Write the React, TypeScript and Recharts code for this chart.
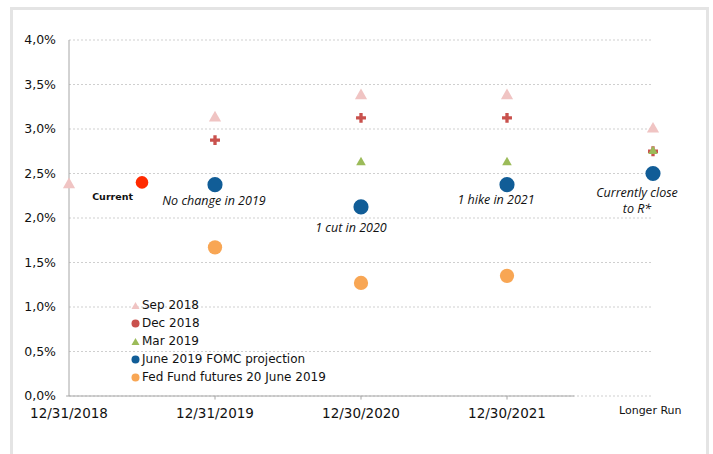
import React from 'react';
import {
  ScatterChart,
  Scatter,
  XAxis,
  YAxis,
  CartesianGrid,
  ReferenceLine,
  Legend,
  Symbols,
} from 'recharts';

// x positions: 0 = 12/31/2018, 1 = 12/31/2019, 2 = 12/30/2020, 3 = 12/30/2021, 4 = Longer Run
const xTicks = [0, 1, 2, 3];
const xTickLabels = ['12/31/2018', '12/31/2019', '12/30/2020', '12/30/2021'];
const yTicks = [0, 0.5, 1, 1.5, 2, 2.5, 3, 3.5, 4];

const sep2018 = [
  { x: 0, y: 2.375 },
  { x: 1, y: 3.125 },
  { x: 2, y: 3.375 },
  { x: 3, y: 3.375 },
  { x: 4, y: 3.0 },
];
const dec2018 = [
  { x: 1, y: 2.875 },
  { x: 2, y: 3.125 },
  { x: 3, y: 3.125 },
  { x: 4, y: 2.75 },
];
const mar2019 = [
  { x: 2, y: 2.625 },
  { x: 3, y: 2.625 },
  { x: 4, y: 2.75 },
];
const june2019 = [
  { x: 1, y: 2.375 },
  { x: 2, y: 2.125 },
  { x: 3, y: 2.375 },
  { x: 4, y: 2.5 },
];
const futures = [
  { x: 1, y: 1.67 },
  { x: 2, y: 1.27 },
  { x: 3, y: 1.35 },
];
const current = [{ x: 0.5, y: 2.4 }];

// annotation text anchored to the point it describes
const notes = [
  { x: 0.5, y: 2.4, text: ['Current'], kind: 'current' },
  { x: 1, y: 2.375, text: ['No change in 2019'], kind: 'n2019' },
  { x: 2, y: 2.125, text: ['1 cut in 2020'], kind: 'n2020' },
  { x: 3, y: 2.375, text: ['1 hike in 2021'], kind: 'n2021' },
  { x: 4, y: 2.5, text: ['Currently close', 'to R*'], kind: 'lr' },
];

const series = [
  { name: 'Sep 2018', data: sep2018, color: '#f0c4c3', shape: 'triangle', size: 64 },
  { name: 'Dec 2018', data: dec2018, color: '#c9514d', shape: 'cross', size: 55 },
  { name: 'Mar 2019', data: mar2019, color: '#9bbb59', shape: 'triangle', size: 40 },
  { name: 'June 2019 FOMC projection', data: june2019, color: '#115d97', shape: 'circle', size: 180 },
  { name: 'Fed Fund futures 20 June 2019', data: futures, color: '#f8a654', shape: 'circle', size: 160 },
];

const noteOffsets: Record<string, { dx: number; dy: number; anchor: string }> = {
  current: { dx: -9, dy: 18, anchor: 'end' },
  n2019: { dx: -1, dy: 20, anchor: 'middle' },
  n2020: { dx: -10, dy: 25, anchor: 'middle' },
  n2021: { dx: -11, dy: 19, anchor: 'middle' },
  lr: { dx: -16, dy: 23, anchor: 'middle' },
};

const fmtPct = (v: number) => v.toFixed(1).replace('.', ',') + '%';

const makeShape = (type: string, size: number) => (props: any) => (
  <Symbols type={type as any} size={size} cx={props.cx} cy={props.cy} fill={props.fill} />
);

const NoteShape = (props: any) => {
  const { cx, cy, payload } = props;
  const o = noteOffsets[payload.kind];
  const isCurrent = payload.kind === 'current';
  return (
    <text
      x={cx + o.dx}
      y={cy + o.dy}
      textAnchor={o.anchor}
      fontFamily={isCurrent ? 'DejaVu Sans' : 'Open Sans'}
      fontSize={isCurrent ? 9.5 : 12.5}
      fontWeight={isCurrent ? 'bold' : 'normal'}
      fontStyle={isCurrent ? 'normal' : 'italic'}
      fill="#111"
    >
      {payload.text.map((t: string, i: number) => (
        <tspan key={i} x={cx + o.dx} dy={i === 0 ? 0 : 16}>
          {t}
        </tspan>
      ))}
    </text>
  );
};

const LegendIcon = ({ shape, color }: { shape: string; color: string }) => {
  if (shape === 'triangle') {
    return (
      <svg width={9} height={9}>
        <polygon points="4.5,1 8.5,8 0.5,8" fill={color} />
      </svg>
    );
  }
  return (
    <svg width={9} height={9}>
      <circle cx={4.5} cy={4.5} r={4} fill={color} />
    </svg>
  );
};

const renderLegend = () => (
  <div style={{ fontFamily: 'DejaVu Sans', fontSize: 12, color: '#111' }}>
    {series.map((s) => (
      <div key={s.name} style={{ display: 'flex', alignItems: 'center', height: 18 }}>
        <LegendIcon shape={s.shape} color={s.color} />
        <span style={{ marginLeft: 2 }}>{s.name}</span>
      </div>
    ))}
  </div>
);

export default function App() {
  return (
    <div style={{ position: 'relative', width: 713, height: 454, background: '#fff', overflow: 'hidden' }}>
      <style>{`body { margin: 0; }`}</style>
      <div
        style={{
          position: 'absolute',
          left: 10,
          top: 7,
          width: 693,
          height: 460,
          borderTop: '3px solid #e4e4e4',
          borderLeft: '3px solid #e4e4e4',
          borderRight: '3px solid #e4e4e4',
        }}
      />
      <div style={{ position: 'absolute', left: 0, top: 0 }}>
        <ScatterChart width={713} height={454} margin={{ top: 40, right: 60, bottom: 28, left: 0 }}>
          <CartesianGrid vertical={false} stroke="#cfcfcf" strokeDasharray="2 2" />
          <XAxis
            type="number"
            dataKey="x"
            domain={[0, 4]}
            ticks={xTicks}
            tickFormatter={(v: number) => xTickLabels[v] ?? ''}
            axisLine={false}
            tickLine={false}
            height={30}
            tick={{ fill: '#111', fontSize: 13.5, fontFamily: 'DejaVu Sans' }}
            tickMargin={6}
          />
          <YAxis
            type="number"
            dataKey="y"
            domain={[0, 4]}
            ticks={yTicks}
            tickFormatter={fmtPct}
            width={69}
            stroke="#a6a6a6"
            tickLine={false}
            tick={{ fill: '#111', fontSize: 12.5, fontFamily: 'DejaVu Sans' }}
            tickMargin={7}
          />
          <ReferenceLine
            segment={[
              { x: 0, y: 0 },
              { x: 3.46, y: 0 },
            ]}
            stroke="#a6a6a6"
            strokeWidth={1}
            ifOverflow="visible"
          />
          {xTicks.slice(1).map((t) => (
            <ReferenceLine
              key={t}
              segment={[
                { x: t, y: 0 },
                { x: t, y: -0.04 },
              ]}
              stroke="#a6a6a6"
              ifOverflow="visible"
            />
          ))}
          <ReferenceLine
            segment={[
              { x: 0, y: 0 },
              { x: -0.02, y: 0 },
            ]}
            stroke="#a6a6a6"
            ifOverflow="visible"
          />
          {series.map((s) => (
            <Scatter
              key={s.name}
              name={s.name}
              data={s.data}
              fill={s.color}
              shape={makeShape(s.shape, s.size)}
              isAnimationActive={false}
            />
          ))}
          <Scatter
            name="Current"
            data={current}
            fill="#ff2a00"
            shape={makeShape('circle', 125)}
            legendType="none"
            isAnimationActive={false}
          />
          <Scatter name="notes" data={notes} shape={NoteShape} legendType="none" isAnimationActive={false} />
          <Legend
            layout="vertical"
            align="center"
            verticalAlign="middle"
            content={renderLegend}
            wrapperStyle={{ left: 131, top: 296, width: 240 }}
          />
        </ScatterChart>
      </div>
      <div
        style={{
          position: 'absolute',
          left: 619,
          top: 404,
          fontFamily: 'DejaVu Sans',
          fontSize: 11,
          color: '#111',
        }}
      >
        Longer Run
      </div>
    </div>
  );
}
